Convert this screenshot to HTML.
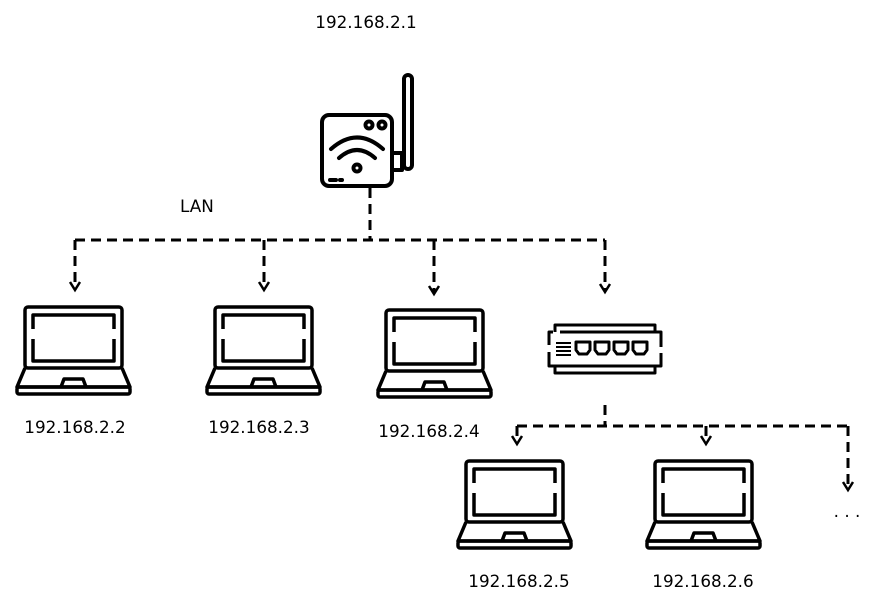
<!DOCTYPE html>
<html><head><style>body{margin:0;background:#fff}svg{display:block}text{font-family:"DejaVu Sans","Liberation Sans",sans-serif;font-size:16.8px;fill:#000}</style></head>
<body>
<svg width="873" height="604" viewBox="0 0 873 604" xmlns="http://www.w3.org/2000/svg">
<defs>
<g id="lap" fill="none" stroke="#000" stroke-width="3.5" stroke-linejoin="round">
<rect x="0" y="0" width="97" height="61" rx="3"/>
<path d="M8 22V8H89V22M8 32V54H89V32"/>
<path d="M0 61L-8 80H105L97 61"/>
<rect x="-8" y="80" width="113" height="7" rx="2"/>
<path d="M36 80L39 72H58L61 80"/>
</g>
<path id="ah" d="M-5 -8L0 0L5 -8" fill="none" stroke="#000" stroke-width="2.5"/>
</defs>
<g fill="none" stroke="#000" stroke-width="3" stroke-dasharray="10,6">
<path d="M370 188V240"/>
<path d="M75 240H605"/>
<path d="M75 240V288M264 240V288M434 240V292M605 240V290"/>
<path d="M605 405V426M517 426H848M517 426V442M706 426V442M848 426V488"/>
</g>
<use href="#ah" x="75" y="290"/><use href="#ah" x="264" y="290"/><use href="#ah" x="434" y="294"/><use href="#ah" x="605" y="292"/>
<use href="#ah" x="517" y="444"/><use href="#ah" x="706" y="444"/><use href="#ah" x="848" y="490"/>
<g fill="none" stroke="#000" stroke-width="4" stroke-linejoin="round" stroke-linecap="round">
<rect x="322" y="115" width="70" height="71" rx="7"/>
<rect x="404" y="75" width="8" height="94" rx="4"/>
<rect x="392" y="153" width="10" height="17"/>
<circle cx="369" cy="125" r="3.5"/><circle cx="382" cy="125" r="3.5"/>
<path d="M331 149Q357 126 383 149M339 158Q357 142 375 158"/>
<circle cx="357" cy="168" r="3.5"/>
<path d="M330 180H336M340 180H342"/>
</g>
<g fill="none" stroke="#000" stroke-width="3" stroke-linejoin="round">
<path d="M555 332V325H655V332M555 366V373H655V366"/>
<path d="M560 332H661V347M661 353V366H549V352M549 345V332H553"/>
<path d="M556 343H571M556 347H571M556 351H571M556 355H571" stroke-width="2"/>
<path d="M576 342h14v8l-3 4h-8l-3-4zM595 342h14v8l-3 4h-8l-3-4zM614 342h14v8l-3 4h-8l-3-4zM633 342h14v8l-3 4h-8l-3-4z"/>
</g>
<use href="#lap" x="25" y="307"/>
<use href="#lap" x="215" y="307"/>
<use href="#lap" x="386" y="310"/>
<use href="#lap" x="466" y="461"/>
<use href="#lap" x="655" y="461"/>
<text x="366" y="28" text-anchor="middle">192.168.2.1</text>
<text x="180" y="212">LAN</text>
<text x="75" y="433" text-anchor="middle">192.168.2.2</text>
<text x="259" y="433" text-anchor="middle">192.168.2.3</text>
<text x="429" y="437" text-anchor="middle">192.168.2.4</text>
<text x="519" y="587" text-anchor="middle">192.168.2.5</text>
<text x="703" y="587" text-anchor="middle">192.168.2.6</text>
<text x="847" y="517" text-anchor="middle">. . .</text>
</svg>
</body></html>
